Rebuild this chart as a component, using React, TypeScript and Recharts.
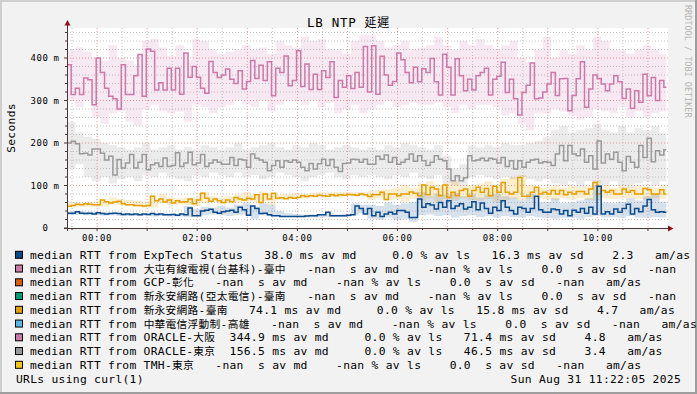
import React from 'react';
import { ComposedChart, Area, Line, XAxis, YAxis, CartesianGrid } from 'recharts';

const WIDTH = 697;
const HEIGHT = 394;
const PLOT_LEFT = 67;
const PLOT_RIGHT = 668;
const PLOT_TOP = 28;
const PLOT_BOTTOM = 228;

const MONO = '"DejaVu Sans Mono", "Noto Sans CJK TC", monospace';
const CJK = '"Noto Sans CJK TC", "Noto Sans CJK SC", sans-serif';
const AXIS = '#4a3636';
const ARROW = '#8e1414';

// minutes relative to 00:00, one median every 5 minutes
const FIRST_MINUTE = -36;
const STEP_MINUTES = 5;
const LAST_MINUTE = 682;
const X_DOMAIN = [-36, 684];
const Y_DOMAIN = [0, 470.6];

// median RTT in ms (5 min)
const exptech = [
  35, 35, 38, 35, 34, 35, 33, 36, 34, 33, 34, 35, 34, 32, 33, 32, 33, 31, 33, 32, 34, 32, 33, 31, 31, 32, 30, 33, 31, 47, 29, 29, 40, 42, 44, 37,
  35, 38, 40, 42, 37, 49, 43, 30, 52, 46, 34, 35, 31, 29, 29, 27, 27, 27, 27, 27, 27, 28, 29, 29, 31, 31, 37, 29, 29, 29, 29, 30, 31, 52, 46, 33,
  46, 29, 37, 27, 33, 37, 33, 41, 41, 37, 25, 25, 68, 49, 57, 54, 45, 60, 49, 64, 46, 52, 57, 45, 49, 62, 43, 59, 46, 35, 49, 41, 64, 49, 41, 33,
  49, 46, 37, 46, 75, 43, 37, 37, 45, 43, 33, 41, 29, 42, 37, 46, 35, 49, 33, 98, 33, 38, 33, 45, 37, 46, 56, 33, 46, 38, 52, 67, 43, 37, 38, 37,
];
const tainan = [
  51, 53, 56, 55, 57, 56, 55, 55, 66, 62, 59, 61, 63, 57, 55, 55, 53, 53, 52, 53, 75, 64, 68, 61, 66, 59, 64, 61, 62, 68, 57, 66, 82, 70, 63, 68,
  64, 60, 66, 62, 72, 68, 66, 70, 68, 78, 60, 80, 68, 82, 70, 71, 69, 72, 70, 72, 76, 74, 76, 75, 77, 76, 75, 78, 76, 78, 77, 79, 78, 77, 80, 78,
  74, 78, 78, 84, 67, 80, 80, 76, 80, 80, 85, 82, 76, 101, 78, 96, 92, 76, 101, 72, 84, 76, 88, 92, 75, 88, 96, 84, 93, 76, 98, 84, 107, 84, 80, 84,
  119, 75, 75, 84, 96, 80, 84, 80, 88, 80, 88, 78, 84, 80, 86, 86, 80, 92, 107, 80, 88, 84, 88, 80, 80, 92, 84, 88, 80, 80, 93, 90, 80, 80, 90, 80,
];
const osaka = [
  384, 314, 329, 314, 353, 349, 290, 400, 366, 329, 310, 304, 280, 384, 314, 314, 358, 408, 310, 421, 416, 325, 342, 325, 376, 325, 376, 315, 412, 355, 380, 355, 329, 317, 392, 366,
  354, 360, 374, 350, 340, 370, 327, 345, 394, 352, 383, 347, 391, 311, 376, 366, 405, 335, 347, 417, 333, 386, 326, 362, 326, 370, 354, 391, 307, 347, 331, 358, 328, 366, 331, 427,
  320, 429, 315, 404, 360, 336, 345, 412, 396, 366, 342, 378, 344, 375, 366, 399, 344, 313, 409, 378, 313, 398, 358, 323, 350, 325, 358, 366, 376, 313, 350, 357, 390, 319, 350, 304,
  266, 319, 336, 388, 304, 306, 320, 339, 366, 312, 351, 352, 276, 312, 351, 391, 284, 327, 360, 352, 339, 323, 339, 358, 344, 305, 327, 282, 323, 296, 362, 311, 354, 300, 347, 331,
];
const tokyo = [
  200, 204, 198, 175, 176, 172, 186, 186, 176, 160, 169, 125, 161, 141, 153, 173, 141, 155, 173, 137, 149, 153, 145, 165, 145, 147, 177, 145, 153, 178, 149, 153, 173, 145, 153, 160,
  155, 150, 150, 166, 147, 162, 160, 143, 174, 164, 160, 155, 135, 147, 158, 143, 158, 155, 160, 155, 143, 135, 152, 139, 151, 162, 147, 161, 143, 133, 152, 153, 162, 161, 155, 162,
  150, 150, 169, 162, 172, 155, 166, 150, 155, 162, 174, 157, 170, 158, 147, 155, 170, 162, 158, 139, 111, 123, 111, 118, 170, 158, 160, 164, 158, 164, 162, 153, 166, 145, 158, 139,
  158, 143, 155, 160, 162, 153, 156, 155, 147, 174, 194, 158, 194, 174, 170, 186, 155, 170, 139, 205, 153, 174, 162, 178, 155, 135, 168, 155, 143, 194, 166, 211, 156, 182, 172, 184,
];

// smoke (ping spread) per 10 min, ms
const exptechLo = [
  30, 31, 30, 30, 29, 30, 28, 28, 28, 29, 27, 28, 27, 27, 26, 28, 30, 32, 30, 28, 30, 32, 22, 30, 28, 28, 26, 26, 25, 25, 25, 26, 26, 26, 30, 35,
  22, 20, 25, 18, 22, 15, 30, 32, 28, 30, 25, 28, 30, 26, 28, 25, 28, 26, 25, 28, 26, 24, 22, 24, 25, 22, 26, 28, 25, 26, 24, 28, 25, 24, 26, 25,
];
const exptechHi = [
  38, 40, 38, 38, 37, 37, 36, 36, 35, 35, 35, 36, 35, 34, 52, 45, 50, 48, 52, 48, 55, 60, 50, 58, 55, 40, 35, 33, 32, 32, 33, 35, 32, 34, 58, 55,
  55, 52, 60, 55, 58, 62, 85, 75, 80, 78, 82, 75, 80, 72, 78, 80, 75, 72, 65, 80, 60, 62, 70, 58, 60, 65, 70, 100, 60, 58, 62, 70, 65, 75, 80, 62,
];
const tainanLo = [
  48, 50, 50, 50, 50, 55, 55, 52, 50, 48, 48, 58, 55, 56, 54, 52, 58, 60, 56, 58, 60, 62, 62, 64, 55, 66, 68, 70, 70, 72, 72, 73, 74, 74, 74, 75,
  66, 70, 65, 68, 60, 68, 65, 70, 62, 68, 65, 70, 66, 65, 68, 62, 66, 68, 65, 68, 70, 68, 66, 70, 68, 70, 66, 65, 70, 68, 70, 70, 68, 66, 70, 68,
];
const tainanHi = [
  58, 60, 62, 62, 60, 72, 68, 66, 64, 60, 58, 80, 72, 70, 72, 72, 85, 75, 72, 75, 78, 85, 80, 86, 80, 78, 80, 82, 80, 82, 84, 83, 84, 85, 84, 85,
  88, 90, 92, 95, 100, 95, 105, 110, 100, 105, 110, 100, 100, 105, 110, 100, 115, 120, 125, 100, 95, 95, 100, 95, 100, 95, 98, 112, 100, 95, 100, 96, 100, 98, 95, 100,
];
const osakaLo = [
  300, 285, 300, 260, 245, 270, 275, 250, 240, 280, 290, 275, 270, 275, 250, 290, 285, 270, 285, 290, 300, 290, 285, 300, 275, 290, 300, 300, 290, 300, 285, 295, 270, 280, 290, 270,
  280, 290, 300, 285, 290, 295, 290, 290, 295, 285, 270, 290, 280, 290, 290, 285, 265, 270, 245, 230, 270, 270, 280, 275, 265, 255, 260, 280, 275, 270, 285, 260, 275, 260, 270, 275,
];
const osakaHi = [
  420, 425, 415, 400, 395, 430, 400, 395, 380, 440, 445, 425, 405, 430, 395, 445, 440, 420, 410, 415, 420, 430, 420, 425, 410, 440, 430, 425, 450, 440, 445, 420, 420, 410, 440, 455,
  455, 440, 425, 430, 440, 420, 425, 430, 450, 430, 420, 440, 430, 445, 430, 420, 430, 440, 400, 390, 420, 450, 400, 420, 410, 430, 420, 450, 440, 420, 420, 410, 420, 430, 420, 410,
];
const tokyoLo = [
  140, 150, 120, 110, 120, 105, 115, 120, 110, 125, 120, 130, 120, 115, 110, 125, 120, 130, 125, 120, 130, 120, 125, 115, 120, 130, 125, 120, 110, 120, 125, 130, 120, 115, 125, 120,
  125, 120, 115, 125, 120, 130, 120, 115, 125, 105, 100, 100, 120, 125, 120, 115, 120, 115, 120, 115, 110, 115, 105, 100, 110, 95, 110, 105, 100, 110, 100, 95, 105, 110, 100, 110,
];
const tokyoHi = [
  250, 225, 215, 210, 200, 195, 190, 185, 190, 200, 185, 190, 195, 185, 190, 185, 195, 190, 185, 190, 200, 185, 190, 195, 200, 190, 185, 195, 190, 200, 195, 185, 190, 195, 190, 185,
  190, 185, 195, 190, 200, 195, 190, 185, 195, 170, 140, 150, 195, 190, 195, 190, 200, 195, 195, 200, 205, 215, 230, 240, 225, 230, 235, 245, 230, 225, 240, 225, 235, 230, 240, 225,
];

const xTicks = [-30, 0, 30, 60, 90, 120, 150, 180, 210, 240, 270, 300, 330, 360, 390, 420, 450, 480, 510, 540, 570, 600, 630, 660];
const xLabels: Record<number, string> = { 0: '00:00', 120: '02:00', 240: '04:00', 360: '06:00', 480: '08:00', 600: '10:00' };
const yTicks = [0, 20, 40, 60, 80, 100, 120, 140, 160, 180, 200, 220, 240, 260, 280, 300, 320, 340, 360, 380, 400, 420, 440, 460];
const hourLines = [0, 60, 120, 180, 240, 300, 360, 420, 480, 540, 600, 660];
const halfHourLines = [-30, 30, 90, 150, 210, 270, 330, 390, 450, 510, 570, 630];
const majorRows = [100, 200, 300, 400];
const minorRows = [20, 40, 60, 80, 120, 140, 160, 180, 220, 240, 260, 280, 320, 340, 360, 380, 420, 440, 460];

const legendNames = [
  'ExpTech Status',
  '大屯有線電視(台基科)-臺中',
  'GCP-彰化',
  '新永安網路(亞太電信)-臺南',
  '新永安網路-臺南',
  '中華電信浮動制-高雄',
  'ORACLE-大阪',
  'ORACLE-東京',
  'TMH-東京',
];
const legendColors = ['#0b4b8c', '#cc79a7', '#d55e00', '#009e73', '#e69f00', '#56b4e9', '#cc79a7', '#999999', '#f5c710'];
const legendMedian = ['38.0', '-nan', '-nan', '-nan', '74.1', '-nan', '344.9', '156.5', '-nan'];
const legendMedianUnit = ['m', ' ', ' ', ' ', 'm', ' ', 'm', 'm', ' '];
const legendLoss = ['0.0', '-nan', '-nan', '-nan', '0.0', '-nan', '0.0', '0.0', '-nan'];
const legendSd = ['16.3', '0.0', '0.0', '0.0', '15.8', '0.0', '71.4', '46.5', '0.0'];
const legendSdUnit = ['m', ' ', ' ', ' ', 'm', ' ', 'm', 'm', ' '];
const legendAmas = ['2.3', '-nan', '-nan', '-nan', '4.7', '-nan', '4.8', '3.4', '-nan'];
// the two longest rows run past the right edge in the original, their am/as is not visible
const legendAmasTail = ['am/as', '', 'am/as', '', 'am/as', 'am/as', 'am/as', 'am/as', 'am/as'];

const band = (lo: number, hi: number, v: number) => [Math.min(lo, v), Math.max(hi, v)];

const rows = exptech.map((_, i) => {
  const k = i >> 1;
  return {
    t: FIRST_MINUTE + i * STEP_MINUTES,
    exptech: exptech[i],
    tainan: tainan[i],
    osaka: osaka[i],
    tokyo: tokyo[i],
    exptechBand: band(exptechLo[k], exptechHi[k], exptech[i]),
    tainanBand: band(tainanLo[k], tainanHi[k], tainan[i]),
    osakaBand: band(osakaLo[k], osakaHi[k], osaka[i]),
    tokyoBand: band(tokyoLo[k], tokyoHi[k], tokyo[i]),
  };
});
rows.push({ ...rows[rows.length - 1], t: LAST_MINUTE });

const pad5 = (s: string) => s.padStart(5, ' ');

const legendLine = (i: number) =>
  `median RTT from ${legendNames[i]}  ${pad5(legendMedian[i])} ${legendMedianUnit[i]}s av md   ` +
  `${pad5(legendLoss[i])} % av ls  ${pad5(legendSd[i])} ${legendSdUnit[i]}s av sd  ${pad5(legendAmas[i])}` +
  (legendAmasTail[i] ? `   ${legendAmasTail[i]}` : '');

// CJK glyphs are drawn a bit smaller than the mono cell, like rrdtool does
const Mixed = ({ text, cjkSize }: { text: string; cjkSize: number }) => {
  const parts = text.split(/([\u3000-\u9fff\uff00-\uffef]+)/);
  return (
    <>
      {parts.map((p, i) =>
        /[\u3000-\u9fff\uff00-\uffef]/.test(p) ? (
          <tspan key={i} fontFamily={CJK} fontSize={cjkSize}>{p}</tspan>
        ) : (
          <tspan key={i}>{p}</tspan>
        ),
      )}
    </>
  );
};

const XTick = (props: any) => {
  const { x, payload } = props;
  const v = payload.value as number;
  const label = xLabels[v];
  return (
    <g>
      <line x1={x} x2={x} y1={PLOT_BOTTOM} y2={PLOT_BOTTOM + (v % 60 === 0 ? 3 : 2)} stroke={AXIS} />
      {label && (
        <text x={x} y={241} textAnchor="middle" fontFamily={MONO} fontSize={9} letterSpacing={0.6} fill="#000">
          {label}
        </text>
      )}
    </g>
  );
};

const YTick = (props: any) => {
  const { y, payload } = props;
  const v = payload.value as number;
  const major = v % 100 === 0;
  return (
    <g>
      <line x1={PLOT_LEFT - (major ? 3 : 2)} x2={PLOT_LEFT} y1={y} y2={y} stroke={AXIS} />
      {major && (
        <text y={y + 3.4} fontFamily={MONO} fontSize={9} letterSpacing={0.6} fill="#000">
          <tspan x={48.5} textAnchor="end">{v}</tspan>
          {v > 0 && <tspan x={53.5}>m</tspan>}
        </text>
      )}
    </g>
  );
};

export default function App() {
  return (
    <div style={{ position: 'relative', width: WIDTH, height: HEIGHT, background: '#f2f2f2', overflow: 'hidden' }}>
      <style>{'body{margin:0}'}</style>
      <div
        style={{
          position: 'absolute',
          left: PLOT_LEFT,
          top: PLOT_TOP,
          width: PLOT_RIGHT - PLOT_LEFT,
          height: PLOT_BOTTOM - PLOT_TOP,
          background: '#ffffff',
        }}
      />
      <div style={{ position: 'absolute', left: 0, top: 0 }}>
        <ComposedChart
          width={WIDTH}
          height={HEIGHT}
          data={rows}
          margin={{ top: PLOT_TOP, right: WIDTH - PLOT_RIGHT, bottom: 146, left: 0 }}
        >
          <CartesianGrid
            horizontalValues={minorRows}
            verticalValues={halfHourLines}
            stroke="#c4c4c4"
            strokeDasharray="1 2"
          />
          <CartesianGrid
            horizontalValues={majorRows}
            verticalValues={hourLines}
            stroke="#e89a9a"
            strokeDasharray="1 2"
          />
          <XAxis
            dataKey="t"
            type="number"
            domain={X_DOMAIN}
            ticks={xTicks}
            interval={0}
            height={20}
            axisLine={false}
            tickLine={false}
            tick={XTick}
          />
          <YAxis
            type="number"
            domain={Y_DOMAIN}
            ticks={yTicks}
            interval={0}
            width={PLOT_LEFT}
            axisLine={false}
            tickLine={false}
            tick={YTick}
          />
          <Area type="stepAfter" dataKey="tokyoBand" stroke="none" fill="#999999" fillOpacity={0.2} isAnimationActive={false} />
          <Area type="stepAfter" dataKey="osakaBand" stroke="none" fill="#cc79a7" fillOpacity={0.16} isAnimationActive={false} />
          <Area type="stepAfter" dataKey="tainanBand" stroke="none" fill="#e69f00" fillOpacity={0.18} isAnimationActive={false} />
          <Area type="stepAfter" dataKey="exptechBand" stroke="none" fill="#0b4b8c" fillOpacity={0.17} isAnimationActive={false} />
          <Line type="stepAfter" dataKey="tokyo" stroke="#999999" strokeWidth={1.5} dot={false} isAnimationActive={false} />
          <Line type="stepAfter" dataKey="osaka" stroke="#cc79a7" strokeWidth={1.5} dot={false} isAnimationActive={false} />
          <Line type="stepAfter" dataKey="tainan" stroke="#e69f00" strokeWidth={1.5} dot={false} isAnimationActive={false} />
          <Line type="stepAfter" dataKey="exptech" stroke="#0b4b8c" strokeWidth={1.5} dot={false} isAnimationActive={false} />
        </ComposedChart>
      </div>
      <svg
        width={WIDTH}
        height={HEIGHT}
        style={{ position: 'absolute', left: 0, top: 0, pointerEvents: 'none' }}
      >
        {/* frame */}
        <rect x={0} y={0} width={WIDTH} height={2} fill="#cfcfcf" />
        <rect x={0} y={0} width={2} height={HEIGHT} fill="#cfcfcf" />
        <rect x={WIDTH - 2} y={0} width={2} height={HEIGHT} fill="#9e9e9e" />
        <rect x={0} y={HEIGHT - 2} width={WIDTH} height={2} fill="#9e9e9e" />

        {/* axes with arrows */}
        <line x1={PLOT_LEFT + 0.5} x2={PLOT_LEFT + 0.5} y1={PLOT_BOTTOM + 3} y2={24} stroke={AXIS} />
        <polygon points="64.5,25.5 70.5,25.5 67.5,20" fill={ARROW} />
        <line x1={PLOT_LEFT - 3} x2={PLOT_RIGHT} y1={PLOT_BOTTOM + 0.5} y2={PLOT_BOTTOM + 0.5} stroke={AXIS} />
        <polygon points="668,225.5 668,231.5 673.5,228.5" fill={ARROW} />

        <text x={348.5} y={26.7} textAnchor="middle" fontFamily={MONO} fontSize={12.5} letterSpacing={0.7} fill="#000">
          <Mixed text="LB NTP 延遲" cjkSize={12} />
        </text>
        <text
          x={14.5}
          y={128}
          transform="rotate(-90 14.5 128)"
          textAnchor="middle"
          fontFamily={MONO}
          fontSize={11.3}
          letterSpacing={0.3}
          fill="#000"
        >
          Seconds
        </text>
        <text
          x={684.5}
          y={5}
          transform="rotate(90 684.5 5)"
          fontFamily={MONO}
          fontSize={8.5}
          fill="#b4b4b4"
        >
          RRDTOOL / TOBI OETIKER
        </text>

        {/* legend */}
        {legendNames.map((_, i) => {
          const base = 258.8 + i * 13.75;
          return (
            <g key={i}>
              <rect x={15.5} y={base - 7.5} width={7} height={7} fill={legendColors[i]} stroke="#000" strokeWidth={1} />
              <text
                x={30}
                y={base}
                fontFamily={MONO}
                fontSize={11.3}
                letterSpacing={0.3}
                fill="#000"
                style={{ whiteSpace: 'pre' }}
              >
                <Mixed text={legendLine(i)} cjkSize={10.7} />
              </text>
            </g>
          );
        })}
        <text x={16} y={383} fontFamily={MONO} fontSize={11.3} letterSpacing={0.3} fill="#000" style={{ whiteSpace: 'pre' }}>
          URLs using curl(1)
        </text>
        <text
          x={681}
          y={383}
          textAnchor="end"
          fontFamily={MONO}
          fontSize={11.3}
          letterSpacing={0.3}
          fill="#000"
          style={{ whiteSpace: 'pre' }}
        >
          Sun Aug 31 11:22:05 2025
        </text>
      </svg>
    </div>
  );
}
